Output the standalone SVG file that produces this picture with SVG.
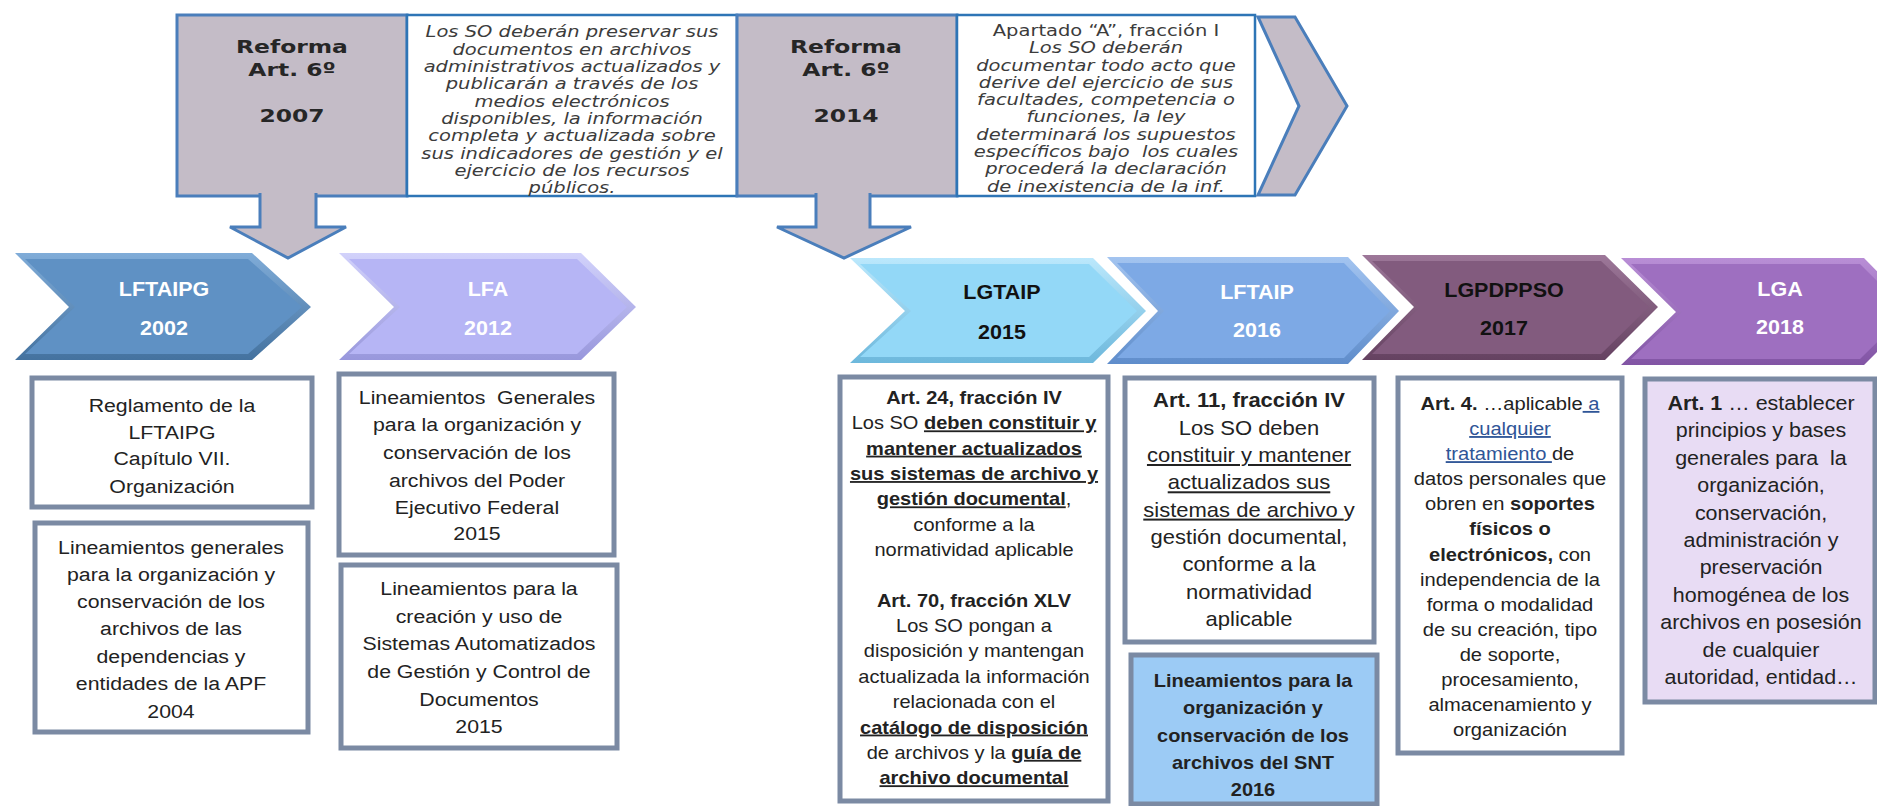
<svg xmlns="http://www.w3.org/2000/svg" width="1877" height="806" viewBox="0 0 1877 806">
<defs>
<style>
.gray{fill:#c4bcc7;stroke:#4a7ebb;stroke-width:3}
.wbox{fill:#ffffff;stroke:#2e75b6;stroke-width:2.5}
.box{fill:#ffffff;stroke:#7b8aa3;stroke-width:5}
.top{font-family:"DejaVu Sans",Verdana,sans-serif;text-anchor:middle;fill:#333333}
.hd{font-weight:bold;font-size:18px;fill:#262626}
.it{font-style:italic;font-size:15px;fill:#3c3c3c}
.rg{font-size:15px;fill:#3c3c3c}
.t{font-family:"Liberation Sans",Arial,sans-serif;text-anchor:middle;fill:#222222}
.b{font-weight:bold}
.u{text-decoration:underline}
.bl{fill:#2f5597}
.cv{font-family:"Liberation Sans",Arial,sans-serif;text-anchor:middle;font-weight:bold;font-size:20.5px}
.w{fill:#ffffff}
.k{fill:#111111}
</style>
<linearGradient id="g1" x1="0" y1="0" x2="0" y2="1"><stop offset="0" stop-color="#80acd8"/><stop offset="1" stop-color="#44729f"/></linearGradient>
<linearGradient id="g2" x1="0" y1="0" x2="0" y2="1"><stop offset="0" stop-color="#d2d2fb"/><stop offset="1" stop-color="#9897dc"/></linearGradient>
<linearGradient id="g3" x1="0" y1="0" x2="0" y2="1"><stop offset="0" stop-color="#bbe8fc"/><stop offset="1" stop-color="#6db8dc"/></linearGradient>
<linearGradient id="g4" x1="0" y1="0" x2="0" y2="1"><stop offset="0" stop-color="#a3c4f0"/><stop offset="1" stop-color="#5f8dcb"/></linearGradient>
<linearGradient id="g5" x1="0" y1="0" x2="0" y2="1"><stop offset="0" stop-color="#9d7799"/><stop offset="1" stop-color="#654261"/></linearGradient>
<linearGradient id="g6" x1="0" y1="0" x2="0" y2="1"><stop offset="0" stop-color="#b98ed6"/><stop offset="1" stop-color="#8154a4"/></linearGradient>
</defs>

<!-- top timeline band -->
<g id="reforma2007">
<rect class="gray" x="177" y="15" width="230" height="181"/>
<g transform="translate(292,0) scale(1.3,1)">
<text class="top hd" x="0" y="53.5">Reforma</text>
<text class="top hd" x="0" y="76.5">Art. 6º</text>
<text class="top hd" x="0" y="122.5">2007</text>
</g>
</g>

<g id="texto2007">
<rect class="wbox" x="407" y="15" width="330" height="181"/>
<g transform="translate(572,0) scale(1.3,1)">
<text class="top it" x="0" y="37.5">Los SO deberán preservar sus</text>
<text class="top it" x="0" y="54.8">documentos en archivos</text>
<text class="top it" x="0" y="72.2">administrativos actualizados y</text>
<text class="top it" x="0" y="89.5">publicarán a través de los</text>
<text class="top it" x="0" y="106.8">medios electrónicos</text>
<text class="top it" x="0" y="124.2">disponibles, la información</text>
<text class="top it" x="0" y="141.5">completa y actualizada sobre</text>
<text class="top it" x="0" y="158.8">sus indicadores de gestión y el</text>
<text class="top it" x="0" y="176.2">ejercicio de los recursos</text>
<text class="top it" x="0" y="193.5">públicos.</text>
</g>
</g>

<g id="reforma2014">
<rect class="gray" x="737" y="15" width="220" height="181"/>
<g transform="translate(846,0) scale(1.3,1)">
<text class="top hd" x="0" y="53.5">Reforma</text>
<text class="top hd" x="0" y="76.5">Art. 6º</text>
<text class="top hd" x="0" y="122.5">2014</text>
</g>
</g>

<g id="texto2014">
<rect class="wbox" x="957" y="15" width="298" height="181"/>
<g transform="translate(1106,0) scale(1.3,1)">
<text class="top rg" x="0" y="36">Apartado “A”, fracción I</text>
<text class="top it" x="0" y="53.3">Los SO deberán</text>
<text class="top it" x="0" y="70.6">documentar todo acto que</text>
<text class="top it" x="0" y="87.9">derive del ejercicio de sus</text>
<text class="top it" x="0" y="105.2">facultades, competencia o</text>
<text class="top it" x="0" y="122.5">funciones, la ley</text>
<text class="top it" x="0" y="139.8">determinará los supuestos</text>
<text class="top it" x="0" y="157.1" xml:space="preserve">específicos bajo  los cuales</text>
<text class="top it" x="0" y="174.4">procederá la declaración</text>
<text class="top it" x="0" y="191.7">de inexistencia de la inf.</text>
</g>
</g>

<g id="flecha-fin">
<polygon class="gray" points="1258,17 1295,17 1347,106 1295,195 1258,195 1299,106"/>
</g>

<!-- connectors: down arrows from the reforms -->
<g id="connectors">
<path class="gray" d="M260,193 V227 H230 L288,258 L346,227 H316 V193"/>
<path class="gray" d="M816,193 V227 H777 L844,258 L911,227 H870 V193"/>
</g>

<!-- chevrons -->
<g id="LFTAIPG">
<polygon fill="url(#g1)" points="15,253 252,253 311,307 252,360 15,360 69,307"/>
<polygon fill="#5f91c4" points="25,259 248,259 302,307 248,354 25,354 75,307"/>
<g transform="translate(164,0) scale(1.05,1)">
<text class="cv w" x="0" y="296">LFTAIPG</text>
<text class="cv w" x="0" y="335">2002</text>
</g>
</g>

<g id="LFA">
<polygon fill="url(#g2)" points="339,253 581,253 636,307 581,360 339,360 394,307"/>
<polygon fill="#b6b5f5" points="349,259 577,259 627,307 577,354 349,354 400,307"/>
<g transform="translate(488,0) scale(1.05,1)">
<text class="cv w" x="0" y="296">LFA</text>
<text class="cv w" x="0" y="335">2012</text>
</g>
</g>

<g id="LGTAIP">
<polygon fill="url(#g3)" points="850,258 1093,258 1146,311 1093,363 850,363 905,311"/>
<polygon fill="#93d8f7" points="860,264 1089,264 1137,311 1089,357 860,357 911,311"/>
<g transform="translate(1002,0) scale(1.05,1)">
<text class="cv k" x="0" y="299">LGTAIP</text>
<text class="cv k" x="0" y="339">2015</text>
</g>
</g>

<g id="LFTAIP">
<polygon fill="url(#g4)" points="1107,257 1348,257 1399,311 1348,364 1107,364 1158,311"/>
<polygon fill="#7da9e5" points="1117,263 1344,263 1390,311 1344,358 1117,358 1164,311"/>
<g transform="translate(1257,0) scale(1.05,1)">
<text class="cv w" x="0" y="299">LFTAIP</text>
<text class="cv w" x="0" y="337">2016</text>
</g>
</g>

<g id="LGPDPPSO">
<polygon fill="url(#g5)" points="1362,255 1605,255 1658,307 1605,360 1362,360 1414,307"/>
<polygon fill="#825b7e" points="1372,261 1601,261 1649,307 1601,354 1372,354 1420,307"/>
<g transform="translate(1504,0) scale(1.05,1)">
<text class="cv k" x="0" y="297">LGPDPPSO</text>
<text class="cv k" x="0" y="335">2017</text>
</g>
</g>

<g id="LGA">
<polygon fill="url(#g6)" points="1621,258 1864,258 1917,312 1864,365 1621,365 1676,312"/>
<polygon fill="#9e6fc0" points="1631,264 1860,264 1908,312 1860,359 1631,359 1682,312"/>
<g transform="translate(1780,0) scale(1.05,1)">
<text class="cv w" x="0" y="296">LGA</text>
<text class="cv w" x="0" y="334">2018</text>
</g>
</g>

<!-- lower boxes -->
<g id="reglamento">
<rect class="box" x="32" y="378" width="280" height="129"/>
<g transform="translate(172,0) scale(1.12,1)" font-size="19">
<text class="t" x="0" y="412">Reglamento de la</text>
<text class="t" x="0" y="439">LFTAIPG</text>
<text class="t" x="0" y="465">Capítulo VII.</text>
<text class="t" x="0" y="493">Organización</text>
</g>
</g>

<g id="lineamientos2004">
<rect class="box" x="35" y="523" width="273" height="209"/>
<g transform="translate(171,0) scale(1.12,1)" font-size="19">
<text class="t" x="0" y="554">Lineamientos generales</text>
<text class="t" x="0" y="581">para la organización y</text>
<text class="t" x="0" y="608">conservación de los</text>
<text class="t" x="0" y="635.5">archivos de las</text>
<text class="t" x="0" y="663">dependencias y</text>
<text class="t" x="0" y="690.5">entidades de la APF</text>
<text class="t" x="0" y="718">2004</text>
</g>
</g>

<g id="lineamientosPEF">
<rect class="box" x="339" y="374" width="275" height="181"/>
<g transform="translate(477,0) scale(1.12,1)" font-size="19">
<text class="t" x="0" y="404" xml:space="preserve">Lineamientos  Generales</text>
<text class="t" x="0" y="431.5">para la organización y</text>
<text class="t" x="0" y="459">conservación de los</text>
<text class="t" x="0" y="487">archivos del Poder</text>
<text class="t" x="0" y="514">Ejecutivo Federal</text>
<text class="t" x="0" y="540.5">2015</text>
</g>
</g>

<g id="lineamientosSistemas">
<rect class="box" x="341" y="565" width="276" height="183"/>
<g transform="translate(479,0) scale(1.12,1)" font-size="19">
<text class="t" x="0" y="595.5">Lineamientos para la</text>
<text class="t" x="0" y="623">creación y uso de</text>
<text class="t" x="0" y="650.5">Sistemas Automatizados</text>
<text class="t" x="0" y="678">de Gestión y Control de</text>
<text class="t" x="0" y="706">Documentos</text>
<text class="t" x="0" y="733">2015</text>
</g>
</g>

<g id="art24">
<rect class="box" x="840" y="377" width="268" height="424"/>
<g transform="translate(974,0) scale(1.1,1)" font-size="18.2">
<text class="t b" x="0" y="404">Art. 24, fracción IV</text>
<text class="t" x="0" y="429.4">Los SO <tspan class="b u">deben constituir y</tspan></text>
<text class="t b u" x="0" y="454.7">mantener actualizados</text>
<text class="t b u" x="0" y="480.1">sus sistemas de archivo y</text>
<text class="t" x="0" y="505.4"><tspan class="b u">gestión documental</tspan>,</text>
<text class="t" x="0" y="530.8">conforme a la</text>
<text class="t" x="0" y="556.1">normatividad aplicable</text>
<text class="t b" x="0" y="606.8">Art. 70, fracción XLV</text>
<text class="t" x="0" y="632.2">Los SO pongan a</text>
<text class="t" x="0" y="657.5">disposición y mantengan</text>
<text class="t" x="0" y="682.9">actualizada la información</text>
<text class="t" x="0" y="708.2">relacionada con el</text>
<text class="t b u" x="0" y="733.6">catálogo de disposición</text>
<text class="t" x="0" y="758.9">de archivos y la <tspan class="b u">guía de</tspan></text>
<text class="t b u" x="0" y="784.3">archivo documental</text>
</g>
</g>

<g id="art11">
<rect class="box" x="1125" y="378" width="249" height="264"/>
<g transform="translate(1249,0) scale(1.1,1)" font-size="20">
<text class="t b" x="0" y="407.5">Art. 11, fracción IV</text>
<text class="t" x="0" y="434.8">Los SO deben</text>
<text class="t u" x="0" y="462.1">constituir y mantener</text>
<text class="t u" x="0" y="489.4">actualizados sus</text>
<text class="t" x="0" y="516.7"><tspan class="u">sistemas de archivo </tspan>y</text>
<text class="t" x="0" y="544">gestión documental,</text>
<text class="t" x="0" y="571.3">conforme a la</text>
<text class="t" x="0" y="598.6">normatividad</text>
<text class="t" x="0" y="625.9">aplicable</text>
</g>
</g>

<g id="lineamientosSNT">
<rect class="box" x="1131" y="655" width="246" height="149" style="fill:#9ccbf5"/>
<g transform="translate(1253,0) scale(1.11,1)" font-size="18">
<text class="t b" x="0" y="687">Lineamientos para la</text>
<text class="t b" x="0" y="714.3">organización y</text>
<text class="t b" x="0" y="741.6">conservación de los</text>
<text class="t b" x="0" y="769">archivos del SNT</text>
<text class="t b" x="0" y="796">2016</text>
</g>
</g>

<g id="art4">
<rect class="box" x="1398" y="378" width="224" height="375"/>
<g transform="translate(1510,0) scale(1.1,1)" font-size="18.3">
<text class="t" x="0" y="410"><tspan class="b">Art. 4.</tspan> …aplicable<tspan class="u bl"> a</tspan></text>
<text class="t u bl" x="0" y="435.1">cualquier</text>
<text class="t" x="0" y="460.2"><tspan class="u bl">tratamiento </tspan>de</text>
<text class="t" x="0" y="485.3">datos personales que</text>
<text class="t" x="0" y="510.4">obren en <tspan class="b">soportes</tspan></text>
<text class="t b" x="0" y="535.5">físicos o</text>
<text class="t" x="0" y="560.6"><tspan class="b">electrónicos,</tspan> con</text>
<text class="t" x="0" y="585.7">independencia de la</text>
<text class="t" x="0" y="610.8">forma o modalidad</text>
<text class="t" x="0" y="635.9">de su creación, tipo</text>
<text class="t" x="0" y="661">de soporte,</text>
<text class="t" x="0" y="686.1">procesamiento,</text>
<text class="t" x="0" y="711.2">almacenamiento y</text>
<text class="t" x="0" y="736.3">organización</text>
</g>
</g>

<g id="art1">
<rect class="box" x="1645" y="379" width="230" height="323" style="fill:#e8dcf4"/>
<g transform="translate(1761,0) scale(1.1,1)" font-size="19.5">
<text class="t" x="0" y="410"><tspan class="b">Art. 1</tspan> … establecer</text>
<text class="t" x="0" y="437.4">principios y bases</text>
<text class="t" x="0" y="464.8" xml:space="preserve">generales para  la</text>
<text class="t" x="0" y="492.2">organización,</text>
<text class="t" x="0" y="519.6">conservación,</text>
<text class="t" x="0" y="547">administración y</text>
<text class="t" x="0" y="574.4">preservación</text>
<text class="t" x="0" y="601.8">homogénea de los</text>
<text class="t" x="0" y="629.2">archivos en posesión</text>
<text class="t" x="0" y="656.6">de cualquier</text>
<text class="t" x="0" y="684">autoridad, entidad…</text>
</g>
</g>
</svg>
